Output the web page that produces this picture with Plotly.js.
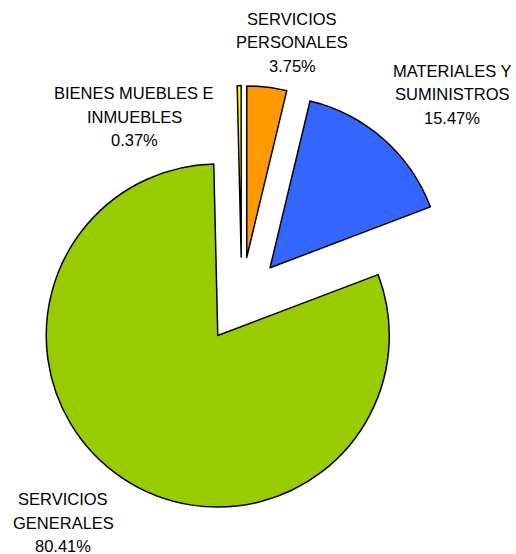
<!DOCTYPE html>
<html>
<head>
<meta charset="utf-8">
<script src="https://cdn.plot.ly/plotly-3.0.1.min.js"></script>
<style>html,body{margin:0;padding:0;background:#fff;}#chart{width:516px;height:554px;}</style>
</head>
<body>
<div id="chart"></div>
<script>
// Data
var categories = ['SERVICIOS PERSONALES', 'MATERIALES Y SUMINISTROS', 'SERVICIOS GENERALES', 'BIENES MUEBLES E INMUEBLES'];
var labelLines = [['SERVICIOS', 'PERSONALES'], ['MATERIALES Y', 'SUMINISTROS'], ['SERVICIOS', 'GENERALES'], ['BIENES MUEBLES E', 'INMUEBLES']];
var values = [3.75, 15.47, 80.41, 0.37];
var colors = ['#FF9900', '#3366FF', '#99CC00', '#FFFF00'];

// Label placement (pixel centres of first line) and line spacing
var labelPos = [[292, 19], [452, 71], [63, 499], [134, 93]];
var lineStep = 23.5;
var W = 516, H = 554;

var annotations = [];
categories.forEach(function (c, i) {
  var lines = labelLines[i].concat([values[i].toFixed(2) + '%']);
  lines.forEach(function (t, j) {
    annotations.push({
      text: t, xref: 'paper', yref: 'paper',
      x: labelPos[i][0] / W, y: 1 - (labelPos[i][1] + j * lineStep) / H,
      xanchor: 'center', yanchor: 'middle', showarrow: false,
      font: {family: 'Liberation Sans, Arial, sans-serif', size: 16.5, color: '#000'}
    });
  });
});

var trace = {
  type: 'pie',
  labels: categories,
  values: values,
  sort: false,
  direction: 'clockwise',
  rotation: 0,
  pull: values.map(function () { return 0.25; }),
  marker: {colors: colors, line: {color: '#000', width: 1.5}},
  textinfo: 'none',
  hoverinfo: 'none',
  showlegend: false,
  domain: {x: [0.0529, 0.8839], y: [0.0715, 0.8455]}
};

var layout = {
  width: W, height: H,
  margin: {l: 0, r: 0, t: 0, b: 0},
  paper_bgcolor: '#fff',
  plot_bgcolor: '#fff',
  showlegend: false,
  annotations: annotations
};

Plotly.newPlot('chart', [trace], layout, {staticPlot: true, displayModeBar: false});
</script>
</body>
</html>
